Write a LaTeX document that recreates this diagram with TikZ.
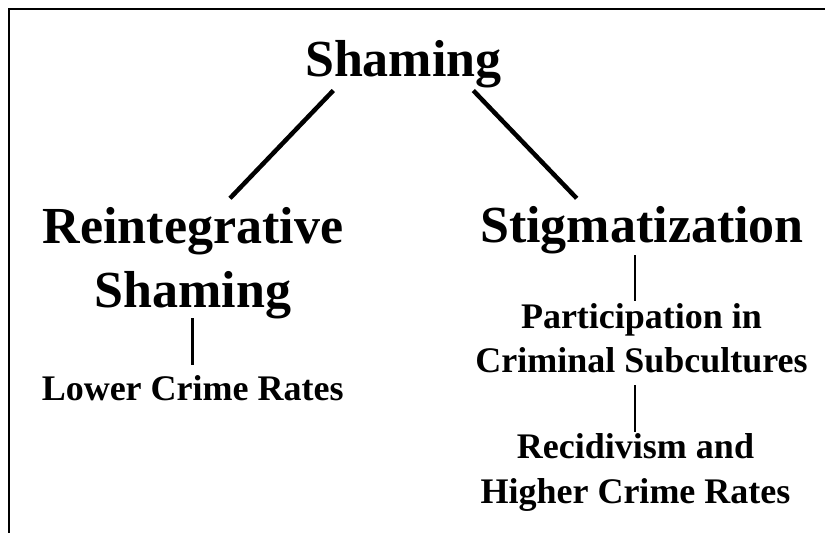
\documentclass[tikz,border=0pt]{standalone}
\usepackage{fontspec}
\setmainfont{Liberation Serif}
\begin{document}
\begin{tikzpicture}[x=1pt,y=-1pt,
  big/.style={inner sep=0pt,anchor=base,align=center,font=\fontsize{52}{64}\selectfont\bfseries},
  small/.style={inner sep=0pt,anchor=base,align=center,font=\fontsize{36}{44.4}\selectfont\bfseries},
  thick conn/.style={line width=4.5pt},
  thin conn/.style={line width=2.5pt}]
\useasboundingbox (0,0) rectangle (825,533);
\draw[line width=2.2pt] (825,9) -- (9,9) -- (9,533);
% texts (base anchor = baseline of the last line)
\node[big] (top) at (403.4,76.7) {Shaming};
\node[big] (reint) at (193,307) {Reintegrative\\Shaming};
\node[big] (stig) at (642,242.7) {Stigmatization};
\node[small] (lower) at (192.7,400) {Lower Crime Rates};
\node[small] (part) at (641.5,372.7) {Participation in\\Criminal Subcultures};
\node[small] (recid) at (635.5,503.3) {Recidivism and\\Higher Crime Rates};
% connector ends
\coordinate (topL) at (333.3,90.5);
\coordinate (reintT) at (230,198.3);
\coordinate (topR) at (473.3,90.5);
\coordinate (stigT) at (576.7,198.3);
\coordinate (reintB) at (192.7,318);
\coordinate (lowerT) at (192.7,365);
\coordinate (stigB) at (635,255);
\coordinate (partT) at (635,300.7);
\coordinate (partB) at (635,385);
\coordinate (recidT) at (635,431.7);
\draw[thick conn] (topL) -- (reintT);
\draw[thick conn] (topR) -- (stigT);
\draw[thin conn] (reintB) -- (lowerT);
\draw[thin conn] (stigB) -- (partT);
\draw[thin conn] (partB) -- (recidT);
\end{tikzpicture}
\end{document}
